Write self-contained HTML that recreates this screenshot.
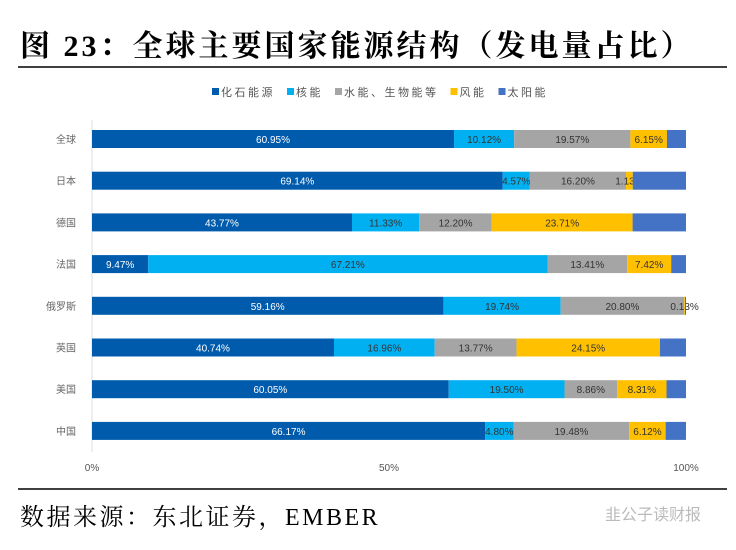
<!DOCTYPE html>
<html><head><meta charset="utf-8"><style>
body{margin:0;background:#fff;width:736px;height:545px;overflow:hidden;font-family:"Liberation Serif","Noto Serif CJK SC",serif}
</style></head><body>
<svg width="736" height="545" id="c">
<text x="20" y="56" font-size="30" font-weight="bold" letter-spacing="3" font-family="'Liberation Serif','Noto Serif CJK SC',serif">图 23：全球主要国家能源结构（发电量占比）</text>
<line x1="18" y1="67" x2="727" y2="67" stroke="#000" stroke-width="1.5"/>
<g id="legend"></g>
<line x1="92" y1="120" x2="92" y2="452" stroke="#ddd"/>
<g id="bars"></g>
<line x1="18" y1="489" x2="727" y2="489" stroke="#000" stroke-width="1.5"/>
<text x="20" y="525" font-size="24" letter-spacing="2.5" font-family="'Liberation Serif','Noto Serif CJK SC',serif">数据来源：东北证券，EMBER</text>
<text x="605" y="520" font-size="16" fill="#bbb" font-family="'Liberation Sans','Noto Sans CJK SC',sans-serif">韭公子读财报</text>
</svg>
<script>
const categories=["全球","日本","德国","法国","俄罗斯","英国","美国","中国"];
const seriesNames=["化石能源","核能","水能、生物能等","风能","太阳能"];
const fossil=[60.95,69.14,43.77,9.47,59.16,40.74,60.05,66.17];
const nuclear=[10.12,4.57,11.33,67.21,19.74,16.96,19.50,4.80];
const hydro=[19.57,16.20,12.20,13.41,20.80,13.77,8.86,19.48];
const wind=[6.15,1.13,23.71,7.42,0.13,24.15,8.31,6.12];
const solar=[3.21,8.96,8.99,2.49,0.17,4.38,3.28,3.43];
const ticks=[0,50,100];
const colors=["#005bac","#00b0f0","#a5a5a5","#ffc000","#4472c4"];
const series=[fossil,nuclear,hydro,wind,solar];
const ns="http://www.w3.org/2000/svg";
const x0=92,x1=686,yTop=139,step=41.7,bh=18;
const X=v=>x0+(x1-x0)*v/100;
const Y=i=>yTop+i*step;
const svg=document.getElementById('c'),bars=document.getElementById('bars'),leg=document.getElementById('legend');
function mk(t,a,p){const e=document.createElementNS(ns,t);for(const k in a)e.setAttribute(k,a[k]);(p||svg).appendChild(e);return e;}
const sf="'Liberation Sans','Noto Sans CJK SC',sans-serif";
let lx=212;
seriesNames.forEach((n,s)=>{
  const r=mk('rect',{x:lx,y:88,width:7,height:7,fill:colors[s]},leg);
  
  
  const t=mk('text',{x:lx+9,y:96,'font-size':11,'letter-spacing':2.5,fill:'#555','font-family':sf},leg);
  t.textContent=n;
  
  
  lx+=9+n.length*13.5+12;
});
categories.forEach((c,i)=>{
  const t=mk('text',{x:76,y:Y(i)+4,'font-size':10,fill:'#666','text-anchor':'end','font-family':sf});
  t.textContent=c;
  
  
  let acc=0;
  series.forEach((arr,s)=>{
    const v=arr[i];
    const r=mk('rect',{x:X(acc),y:Y(i)-bh/2,width:X(acc+v)-X(acc),height:bh,fill:colors[s]},bars);
    
    
    if(s<4){
      const lt=mk('text',{x:(X(acc)+X(acc+v))/2,y:Y(i)+4,'font-size':10,fill:s==0?'#fff':'#333','text-anchor':'middle','font-family':sf},bars);
      lt.textContent=v.toFixed(2)+'%';
      
      
    }
    acc+=v;
  });
});
ticks.forEach(v=>{
  const t=mk('text',{x:X(v),y:471,'font-size':10,fill:'#555','text-anchor':'middle','font-family':sf});
  t.textContent=v+'%';
  
  
});
</script>
</body></html>
